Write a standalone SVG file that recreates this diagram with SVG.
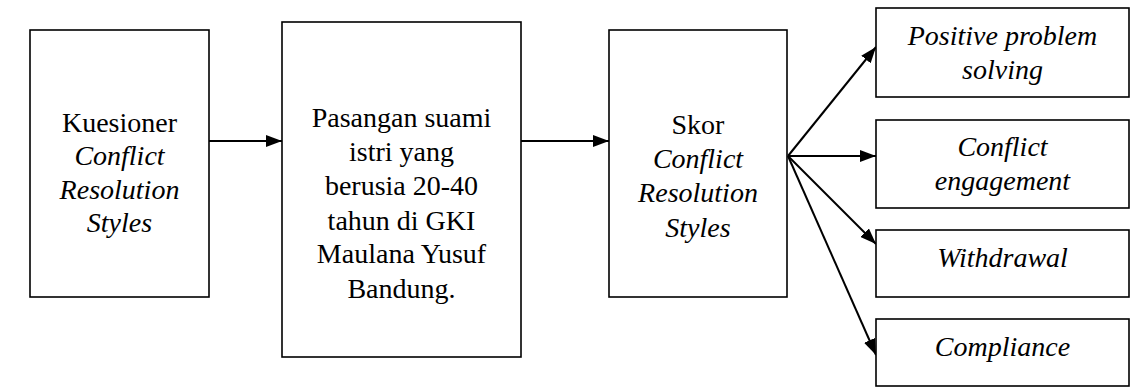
<svg xmlns="http://www.w3.org/2000/svg" width="1132" height="387" viewBox="0 0 1132 387">
<style>
.box{fill:#fff;stroke:#000;stroke-width:1.6}
.t{font-size:28px;fill:#000;text-anchor:middle}
.i{font-style:italic}
.c{stroke:#000;stroke-width:2;fill:none}
</style>
<defs>
<marker id="ah" markerWidth="16" markerHeight="12" refX="16" refY="6" orient="auto" markerUnits="userSpaceOnUse">
<path d="M0,0 L16,6 L0,12 Z" fill="#000"/>
</marker>
</defs>
<rect width="1132" height="387" fill="#fff"/>
<g id="connectors">
<line class="c" x1="209" y1="141" x2="282" y2="141" marker-end="url(#ah)"/>
<line class="c" x1="521" y1="141" x2="609" y2="141" marker-end="url(#ah)"/>
<line class="c" x1="788" y1="156" x2="876" y2="47" marker-end="url(#ah)"/>
<line class="c" x1="788" y1="156" x2="876" y2="156" marker-end="url(#ah)"/>
<line class="c" x1="788" y1="156" x2="876" y2="244" marker-end="url(#ah)"/>
<line class="c" x1="788" y1="156" x2="876" y2="355" marker-end="url(#ah)"/>
</g>
<g font-family="Liberation Serif, DejaVu Serif, serif">
<g id="kuesioner">
<rect class="box" x="30" y="30" width="179" height="267"/>
<text class="t" x="119.5" y="132">Kuesioner</text>
<text class="t i" x="119.5" y="165">Conflict</text>
<text class="t i" x="119.5" y="199">Resolution</text>
<text class="t i" x="119.5" y="232">Styles</text>
</g>
<g id="pasangan">
<rect class="box" x="282" y="22" width="239" height="335"/>
<text class="t" x="401.5" y="127">Pasangan suami</text>
<text class="t" x="401.5" y="161">istri yang</text>
<text class="t" x="401.5" y="195">berusia 20-40</text>
<text class="t" x="401.5" y="230">tahun di GKI</text>
<text class="t" x="401.5" y="263">Maulana Yusuf</text>
<text class="t" x="401.5" y="298">Bandung.</text>
</g>
<g id="skor">
<rect class="box" x="609" y="30" width="178" height="267"/>
<text class="t" x="698" y="134">Skor</text>
<text class="t i" x="698" y="168">Conflict</text>
<text class="t i" x="698" y="202">Resolution</text>
<text class="t i" x="698" y="237">Styles</text>
</g>
<g id="positive">
<rect class="box" x="876" y="8" width="253" height="89"/>
<text class="t i" x="1002.5" y="45">Positive problem</text>
<text class="t i" x="1002.5" y="79">solving</text>
</g>
<g id="engagement">
<rect class="box" x="876" y="120" width="253" height="88"/>
<text class="t i" x="1002.5" y="156">Conflict</text>
<text class="t i" x="1002.5" y="190">engagement</text>
</g>
<g id="withdrawal">
<rect class="box" x="876" y="230" width="253" height="67"/>
<text class="t i" x="1002.5" y="267">Withdrawal</text>
</g>
<g id="compliance">
<rect class="box" x="876" y="319" width="253" height="67"/>
<text class="t i" x="1002.5" y="356">Compliance</text>
</g>
</g>
</svg>
